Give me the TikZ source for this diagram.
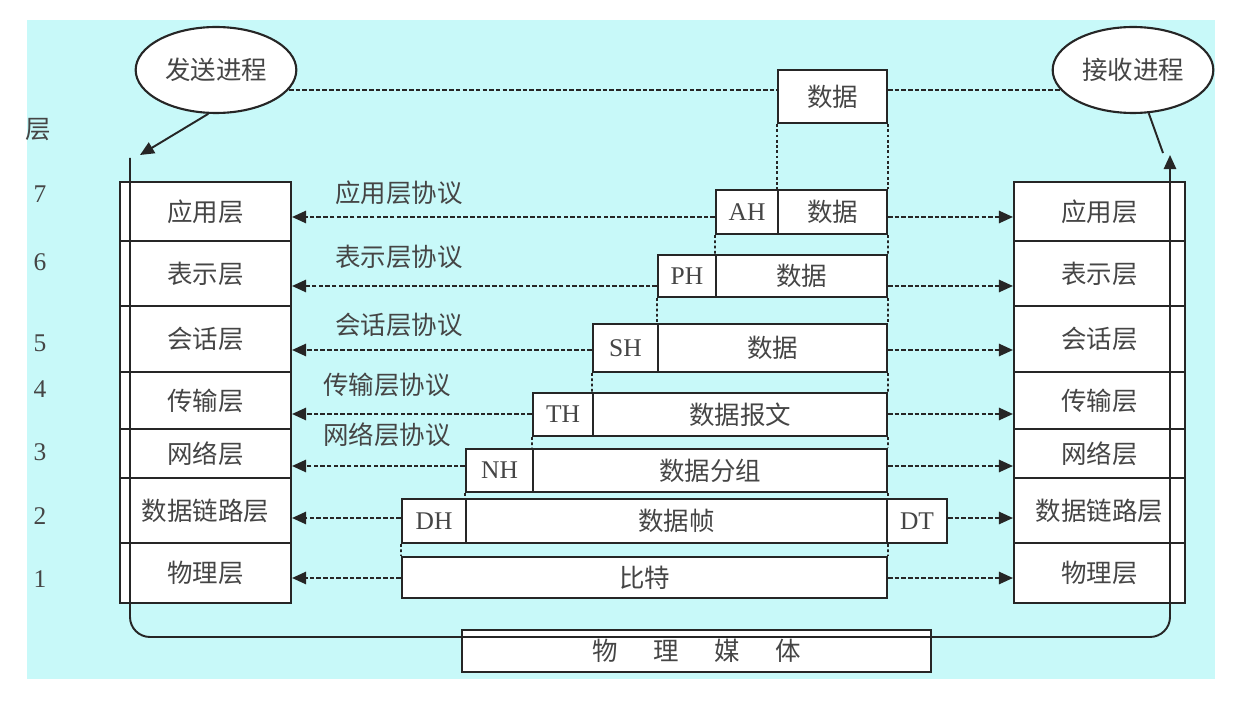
\documentclass[tikz,border=0pt]{standalone}
\usepackage{fontspec}
\setmainfont{Liberation Serif}
\newfontfamily\cjk{Noto Sans CJK SC}
\usetikzlibrary{shapes.geometric,arrows.meta}
\definecolor{bgcyan}{HTML}{C8F9F9}
\definecolor{ink}{HTML}{262626}
\definecolor{txt}{HTML}{454545}

\begin{document}
\begin{tikzpicture}[x=0.02cm,y=-0.02cm,
  zh/.style={font=\cjk\fontsize{14.5}{16}\selectfont,text=txt},
  en/.style={font=\fontsize{14.5}{16}\selectfont,text=txt},
  layer/.style={zh,draw=ink,line width=1.2pt,fill=white,minimum width=3.42cm,inner sep=0pt},
  pkt/.style={zh,draw=ink,line width=1.2pt,fill=white,inner sep=0pt},
  hdr/.style={en,draw=ink,line width=1.2pt,fill=white,inner sep=0pt},
  proc/.style={zh,ellipse,draw=ink,line width=1.2pt,fill=white,minimum width=3.04cm,minimum height=1.72cm},
  proto/.style={ink,line width=1.1pt,dash pattern=on 2.6pt off 1.2pt,-{Triangle[length=8pt,width=7pt]}},
  link/.style={ink,line width=1.1pt,dash pattern=on 2.6pt off 1.2pt},
  drop/.style={ink,line width=1pt,dash pattern=on 1.6pt off 1.4pt},
  flow/.style={ink,line width=1.1pt}]

% Background
\useasboundingbox (0,0) rectangle (1237,709);
\fill[white] (0,0) rectangle (1237,709);
\fill[bgcyan] (27,20) rectangle (1215,679);

% Processes
\node[proc] (send) at (216,70) {发送进程};
\node[proc] (recv) at (1133,70) {接收进程};

% Layer numbers
\node[zh] (lvl) at (38,130) {层};
\node[en] at (40,194) {7};
\node[en] at (40,262) {6};
\node[en] at (40,343) {5};
\node[en] at (40,389) {4};
\node[en] at (40,452) {3};
\node[en] at (40,516) {2};
\node[en] at (40,579) {1};

%--------------------------------------------------
% Sending stack
%--------------------------------------------------
\node[layer,minimum height=1.18cm] (s7) at (205.5,211.5) {应用层};
\node[layer,minimum height=1.30cm] (s6) at (205.5,273.5) {表示层};
\node[layer,minimum height=1.32cm] (s5) at (205.5,339) {会话层};
\node[layer,minimum height=1.14cm] (s4) at (205.5,400.5) {传输层};
\node[layer,minimum height=0.98cm] (s3) at (205.5,453.5) {网络层};
\node[layer,minimum height=1.30cm] (s2) at (205.5,510.5) {数据链路层};
\node[layer,minimum height=1.20cm] (s1) at (205.5,573) {物理层};

%--------------------------------------------------
% Receiving stack
%--------------------------------------------------
\node[layer,minimum height=1.18cm] (r7) at (1099.5,211.5) {应用层};
\node[layer,minimum height=1.30cm] (r6) at (1099.5,273.5) {表示层};
\node[layer,minimum height=1.32cm] (r5) at (1099.5,339) {会话层};
\node[layer,minimum height=1.14cm] (r4) at (1099.5,400.5) {传输层};
\node[layer,minimum height=0.98cm] (r3) at (1099.5,453.5) {网络层};
\node[layer,minimum height=1.30cm] (r2) at (1099.5,510.5) {数据链路层};
\node[layer,minimum height=1.20cm] (r1) at (1099.5,573) {物理层};

% Physical medium
\node[pkt,minimum width=9.38cm,minimum height=0.84cm] (media) at (696.5,651)
{物\hspace{1.4em}理\hspace{1.4em}媒\hspace{1.4em}体};

% Path through the medium
\coordinate (ltop) at (130,158);
\coordinate (lbot) at (130,637);
\coordinate (rbot) at (1170,637);
\coordinate (rtop) at (1170,155);
\coordinate (ltip) at (140,155);
\coordinate (rlink) at (1163,153);
\draw[flow,rounded corners=0.4cm,-{Triangle[length=8pt,width=7pt]}]
  (ltop) -- (lbot) -- (rbot) -- (rtop);
\draw[flow,-{Triangle[length=8pt,width=7pt]}] (send.260) -- (ltip);
\draw[flow] (recv.290) -- (rlink);

%--------------------------------------------------
% Data units
%--------------------------------------------------
\node[pkt,minimum width=2.18cm,minimum height=1.06cm] (data) at (832.5,96.5) {数据};

\node[hdr,minimum width=1.24cm,minimum height=0.88cm] (ah) at (747,212) {AH};
\node[pkt,minimum width=2.18cm,minimum height=0.88cm] (ahd) at (832.5,212) {数据};

\node[hdr,minimum width=1.16cm,minimum height=0.84cm] (ph) at (687,276) {PH};
\node[pkt,minimum width=3.42cm,minimum height=0.84cm] (phd) at (801.5,276) {数据};

\node[hdr,minimum width=1.30cm,minimum height=0.96cm] (sh) at (625.5,348) {SH};
\node[pkt,minimum width=4.58cm,minimum height=0.96cm] (shd) at (772.5,348) {数据};

\node[hdr,minimum width=1.20cm,minimum height=0.86cm] (th) at (563,414.5) {TH};
\node[pkt,minimum width=5.88cm,minimum height=0.86cm] (thd) at (740,414.5) {数据报文};

\node[hdr,minimum width=1.34cm,minimum height=0.86cm] (nh) at (499.5,470.5) {NH};
\node[pkt,minimum width=7.08cm,minimum height=0.86cm] (nhd) at (710,470.5) {数据分组};

\node[hdr,minimum width=1.28cm,minimum height=0.88cm] (dh) at (434,521) {DH};
\node[pkt,minimum width=8.42cm,minimum height=0.88cm] (dhd) at (676.5,521) {数据帧};
\node[hdr,minimum width=1.20cm,minimum height=0.88cm] (dt) at (917,521) {DT};

\node[pkt,minimum width=9.70cm,minimum height=0.82cm] (bit) at (644.5,577.5) {比特};

% Encapsulation guides
\draw[drop] (data.south west) -- (ahd.north west);
\draw[drop] (data.south east) -- (ahd.north east);
\draw[drop] (ah.south west) -- (phd.north west);
\draw[drop] (ahd.south east) -- (phd.north east);
\draw[drop] (ph.south west) -- (shd.north west);
\draw[drop] (phd.south east) -- (shd.north east);
\draw[drop] (sh.south west) -- (thd.north west);
\draw[drop] (shd.south east) -- (thd.north east);
\draw[drop] (th.south west) -- (nhd.north west);
\draw[drop] (thd.south east) -- (nhd.north east);
\draw[drop] (nh.south west) -- (dhd.north west);
\draw[drop] (nhd.south east) -- (dhd.north east);
\draw[drop] (dh.south west) -- (bit.north west);
\draw[drop] (dhd.south east) -- (bit.north east);

% Process link
\draw[link] (send.-15) -- (data.west |- send.-15);
\draw[link] (data.east |- recv.195) -- (recv.195);

%--------------------------------------------------
% Peer protocols
%--------------------------------------------------
\node[zh] (p7) at (399,193) {应用层协议};
\node[zh] (p6) at (399,257) {表示层协议};
\node[zh] (p5) at (399,325) {会话层协议};
\node[zh] (p4) at (387,385) {传输层协议};
\node[zh] (p3) at (387,435) {网络层协议};

\draw[proto] (ah.west |- 0,217) -- (s7.east |- 0,217);
\draw[proto] (ph.west |- 0,286) -- (s6.east |- 0,286);
\draw[proto] (sh.west |- 0,350) -- (s5.east |- 0,350);
\draw[proto] (th.west |- 0,414) -- (s4.east |- 0,414);
\draw[proto] (nh.west |- 0,466) -- (s3.east |- 0,466);
\draw[proto] (dh.west |- 0,518) -- (s2.east |- 0,518);
\draw[proto] (bit.west |- 0,578) -- (s1.east |- 0,578);

\draw[proto] (ahd.east |- 0,217) -- (r7.west |- 0,217);
\draw[proto] (phd.east |- 0,286) -- (r6.west |- 0,286);
\draw[proto] (shd.east |- 0,350) -- (r5.west |- 0,350);
\draw[proto] (thd.east |- 0,414) -- (r4.west |- 0,414);
\draw[proto] (nhd.east |- 0,466) -- (r3.west |- 0,466);
\draw[proto] (dt.east |- 0,518) -- (r2.west |- 0,518);
\draw[proto] (bit.east |- 0,578) -- (r1.west |- 0,578);

\end{tikzpicture}
\end{document}
